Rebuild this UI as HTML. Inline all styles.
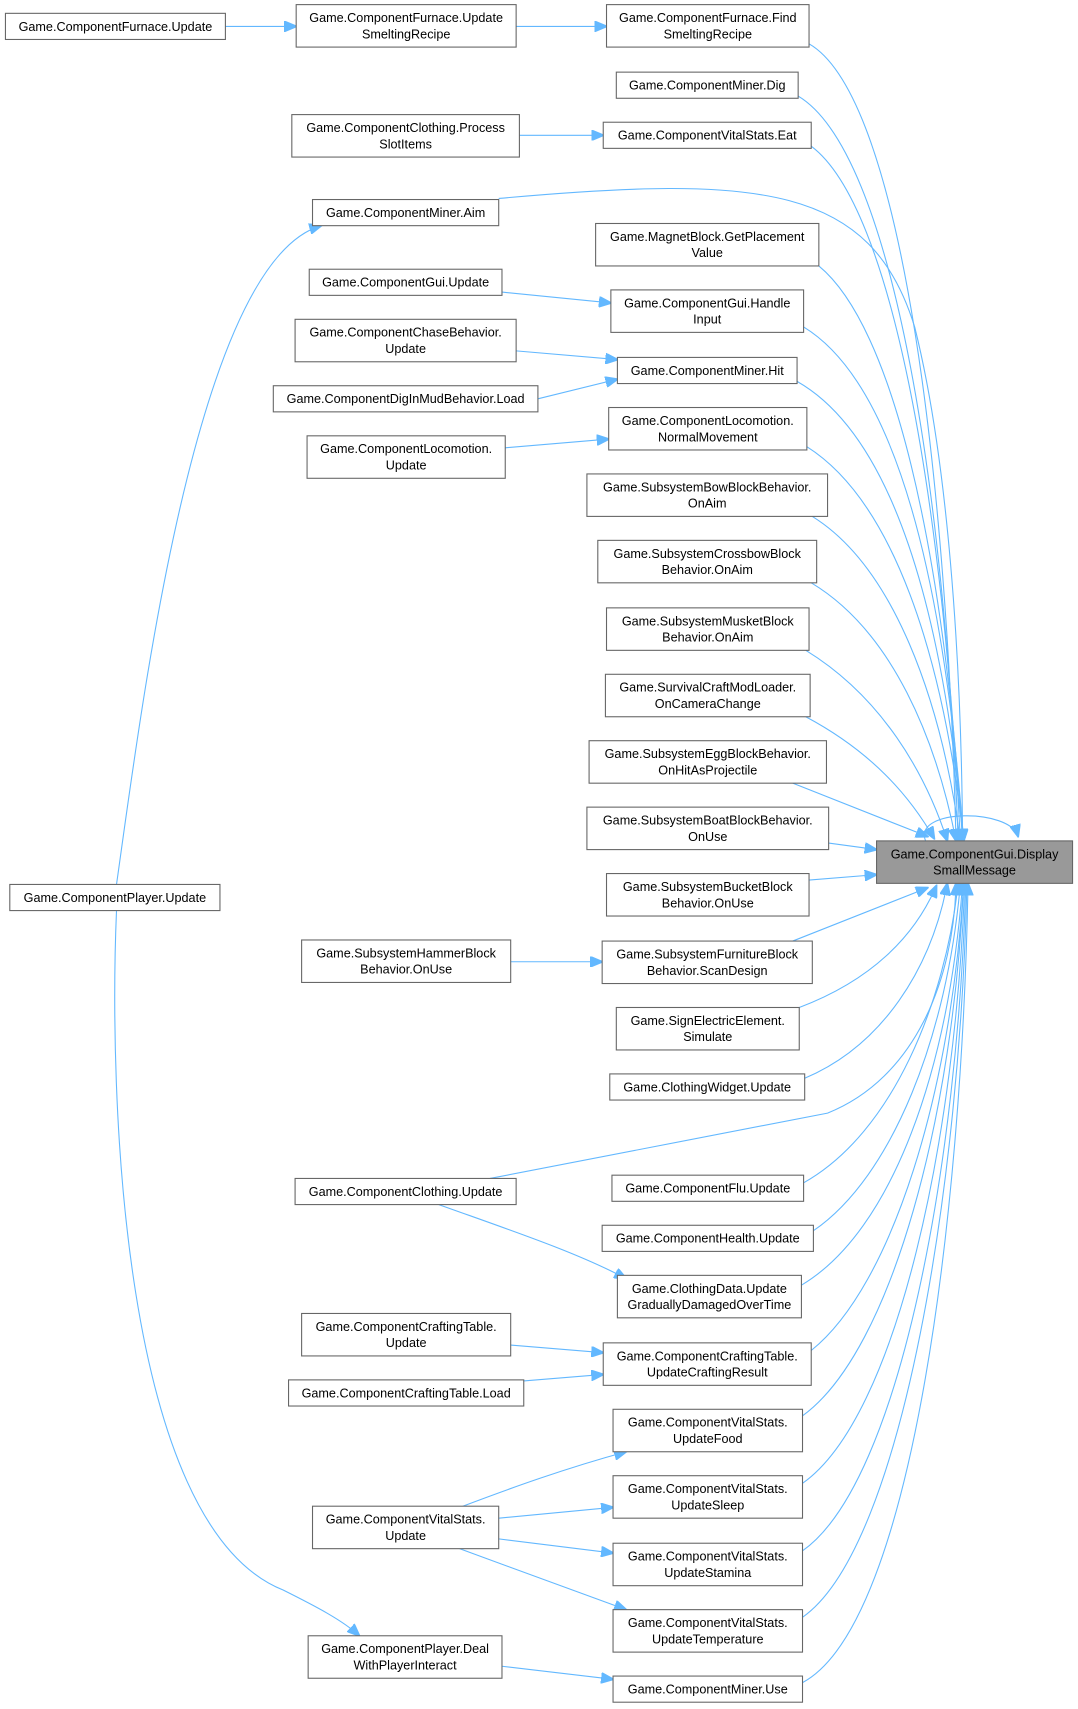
<!DOCTYPE html>
<html><head><meta charset="utf-8"><style>
html,body{margin:0;padding:0;background:#fff}
svg{display:block}
text{font-family:"Liberation Sans",sans-serif;font-size:11.6px;fill:#000;text-anchor:middle}
.b{fill:#fff;stroke:#666;stroke-width:1}
.t{fill:#999;stroke:#666;stroke-width:1}
.e{fill:none;stroke:#63b8ff;stroke-width:1}
</style></head><body>
<svg width="1078" height="1709" viewBox="0 0 990 1569" xmlns="http://www.w3.org/2000/svg">
<defs><marker id="a" markerWidth="12" markerHeight="10" refX="11" refY="5" orient="auto" markerUnits="userSpaceOnUse"><path d="M0,0 L12,5 L0,10 Z" fill="#63b8ff" stroke="#63b8ff"/></marker></defs>

<g class="e" marker-end="url(#a)">
<path class="e" d="M207,24 L272,24"/>
<path class="e" d="M474,24 L557,24"/>
<path class="e" d="M477,124 L554,124"/>
<path class="e" d="M461,268 L561,278"/>
<path class="e" d="M474,322 L567,330"/>
<path class="e" d="M494,366 L567,348"/>
<path class="e" d="M464,411 L559,403"/>
<path class="e" d="M469,883 L553,883"/>
<path class="e" d="M403,1106 C470,1130 530,1150 575,1174"/>
<path class="e" d="M469,1235 L554,1242"/>
<path class="e" d="M481,1268 L554,1262"/>
<path class="e" d="M425,1383 C470,1366 520,1348 575,1333"/>
<path class="e" d="M458,1394 L563,1384"/>
<path class="e" d="M458,1413 L563,1426"/>
<path class="e" d="M422,1422 C470,1440 520,1458 575,1478"/>
<path class="e" d="M461,1530 L563,1542"/>
<path class="e" d="M107,812 C130,650 180,240 295,207"/>
<path class="e" d="M107,836 C100,1000 110,1400 260,1460 C290,1475 315,1488 330,1502"/>
</g>

<g>
<path class="e" marker-end="url(#a)" d="M743,40 C830,90 870,450 878,772"/>
<path class="e" marker-end="url(#a)" d="M733,88 C820,140 868,450 880,772"/>
<path class="e" marker-end="url(#a)" d="M745,134 C820,190 866,460 882,772"/>
<path class="e" marker-end="url(#a)" d="M458,182 C700,160 800,170 840,300 C870,420 883,600 884,772"/>
<path class="e" marker-end="url(#a)" d="M752,244 C820,300 866,500 884,772"/>
<path class="e" marker-end="url(#a)" d="M738,300 C820,350 866,520 885,772"/>
<path class="e" marker-end="url(#a)" d="M732,350 C820,400 866,560 885,772"/>
<path class="e" marker-end="url(#a)" d="M741,410 C820,460 866,600 885,772"/>
<path class="e" marker-end="url(#a)" d="M746,474 C820,520 864,640 882,772"/>
<path class="e" marker-end="url(#a)" d="M745,535 C820,580 860,680 878,772"/>
<path class="e" marker-end="url(#a)" d="M740,597 C810,640 850,710 870,772"/>
<path class="e" marker-end="url(#a)" d="M740,658 C800,690 835,730 858,770"/>
<path class="e" marker-end="url(#a)" d="M728,719 L852,768"/>
<path class="e" marker-end="url(#a)" d="M761,774 L805,780"/>
<path class="e" marker-end="url(#a)" d="M743,808 L805,803"/>
<path class="e" marker-end="url(#a)" d="M728,864 L852,815"/>
<path class="e" marker-end="url(#a)" d="M734,925 C800,900 840,860 860,813"/>
<path class="e" marker-end="url(#a)" d="M739,990 C810,960 855,890 870,811"/>
<path class="e" marker-end="url(#a)" d="M450,1082 L760,1022 C840,990 876,900 878,811"/>
<path class="e" marker-end="url(#a)" d="M738,1086 C820,1040 868,920 880,811"/>
<path class="e" marker-end="url(#a)" d="M747,1130 C820,1080 870,950 882,811"/>
<path class="e" marker-end="url(#a)" d="M736,1180 C820,1130 872,980 884,811"/>
<path class="e" marker-end="url(#a)" d="M745,1240 C820,1180 874,1000 885,811"/>
<path class="e" marker-end="url(#a)" d="M737,1300 C820,1240 876,1020 885,811"/>
<path class="e" marker-end="url(#a)" d="M737,1362 C825,1300 878,1040 886,811"/>
<path class="e" marker-end="url(#a)" d="M737,1424 C828,1360 880,1060 887,811"/>
<path class="e" marker-end="url(#a)" d="M737,1485 C830,1420 882,1080 888,811"/>
<path class="e" marker-end="url(#a)" d="M737,1545 C840,1490 884,1100 889,811"/>
<path class="e" marker-end="url(#a)" d="M850,772 C838,742 928,742 935,768"/>
</g>

<rect class="b" x="5" y="12" width="202" height="24"/><text x="106" y="28">Game.ComponentFurnace.Update</text>
<rect class="b" x="9" y="812" width="193" height="24"/><text x="105.5" y="828">Game.ComponentPlayer.Update</text>

<rect class="b" x="272" y="4" width="202" height="39"/><text x="373" y="20">Game.ComponentFurnace.Update</text><text x="373" y="35">SmeltingRecipe</text>
<rect class="b" x="268" y="105" width="209" height="39"/><text x="372.5" y="121">Game.ComponentClothing.Process</text><text x="372.5" y="136">SlotItems</text>
<rect class="b" x="287" y="183" width="171" height="24"/><text x="372.5" y="199">Game.ComponentMiner.Aim</text>
<rect class="b" x="284" y="247" width="177" height="24"/><text x="372.5" y="263">Game.ComponentGui.Update</text>
<rect class="b" x="271" y="293" width="203" height="39"/><text x="372.5" y="309">Game.ComponentChaseBehavior.</text><text x="372.5" y="324">Update</text>
<rect class="b" x="251" y="354" width="243" height="24"/><text x="372.5" y="370">Game.ComponentDigInMudBehavior.Load</text>
<rect class="b" x="282" y="400" width="182" height="39"/><text x="373" y="416">Game.ComponentLocomotion.</text><text x="373" y="431">Update</text>
<rect class="b" x="277" y="863" width="192" height="39"/><text x="373" y="879">Game.SubsystemHammerBlock</text><text x="373" y="894">Behavior.OnUse</text>
<rect class="b" x="271" y="1082" width="203" height="24"/><text x="372.5" y="1098">Game.ComponentClothing.Update</text>
<rect class="b" x="277" y="1206" width="192" height="39"/><text x="373" y="1222">Game.ComponentCraftingTable.</text><text x="373" y="1237">Update</text>
<rect class="b" x="265" y="1267" width="216" height="24"/><text x="373" y="1283">Game.ComponentCraftingTable.Load</text>
<rect class="b" x="287" y="1383" width="171" height="39"/><text x="372.5" y="1399">Game.ComponentVitalStats.</text><text x="372.5" y="1414">Update</text>
<rect class="b" x="283" y="1502" width="178" height="39"/><text x="372" y="1518">Game.ComponentPlayer.Deal</text><text x="372" y="1533">WithPlayerInteract</text>

<rect class="b" x="557" y="4" width="186" height="39"/><text x="650" y="20">Game.ComponentFurnace.Find</text><text x="650" y="35">SmeltingRecipe</text>
<rect class="b" x="566" y="66" width="167" height="24"/><text x="649.5" y="82">Game.ComponentMiner.Dig</text>
<rect class="b" x="554" y="112" width="191" height="24"/><text x="649.5" y="128">Game.ComponentVitalStats.Eat</text>
<rect class="b" x="547" y="205" width="205" height="39"/><text x="649.5" y="221">Game.MagnetBlock.GetPlacement</text><text x="649.5" y="236">Value</text>
<rect class="b" x="561" y="266" width="177" height="39"/><text x="649.5" y="282">Game.ComponentGui.Handle</text><text x="649.5" y="297">Input</text>
<rect class="b" x="567" y="328" width="165" height="24"/><text x="649.5" y="344">Game.ComponentMiner.Hit</text>
<rect class="b" x="559" y="374" width="182" height="39"/><text x="650" y="390">Game.ComponentLocomotion.</text><text x="650" y="405">NormalMovement</text>
<rect class="b" x="539" y="435" width="221" height="39"/><text x="649.5" y="451">Game.SubsystemBowBlockBehavior.</text><text x="649.5" y="466">OnAim</text>
<rect class="b" x="549" y="496" width="201" height="39"/><text x="649.5" y="512">Game.SubsystemCrossbowBlock</text><text x="649.5" y="527">Behavior.OnAim</text>
<rect class="b" x="557" y="558" width="186" height="39"/><text x="650" y="574">Game.SubsystemMusketBlock</text><text x="650" y="589">Behavior.OnAim</text>
<rect class="b" x="556" y="619" width="188" height="39"/><text x="650" y="635">Game.SurvivalCraftModLoader.</text><text x="650" y="650">OnCameraChange</text>
<rect class="b" x="541" y="680" width="218" height="39"/><text x="650" y="696">Game.SubsystemEggBlockBehavior.</text><text x="650" y="711">OnHitAsProjectile</text>
<rect class="b" x="539" y="741" width="222" height="39"/><text x="650" y="757">Game.SubsystemBoatBlockBehavior.</text><text x="650" y="772">OnUse</text>
<rect class="b" x="557" y="802" width="186" height="39"/><text x="650" y="818">Game.SubsystemBucketBlock</text><text x="650" y="833">Behavior.OnUse</text>
<rect class="b" x="553" y="864" width="193" height="39"/><text x="649.5" y="880">Game.SubsystemFurnitureBlock</text><text x="649.5" y="895">Behavior.ScanDesign</text>
<rect class="b" x="566" y="925" width="168" height="39"/><text x="650" y="941">Game.SignElectricElement.</text><text x="650" y="956">Simulate</text>
<rect class="b" x="560" y="986" width="179" height="24"/><text x="649.5" y="1002">Game.ClothingWidget.Update</text>
<rect class="b" x="562" y="1079" width="176" height="24"/><text x="650" y="1095">Game.ComponentFlu.Update</text>
<rect class="b" x="553" y="1125" width="194" height="24"/><text x="650" y="1141">Game.ComponentHealth.Update</text>
<rect class="b" x="567" y="1171" width="169" height="39"/><text x="651.5" y="1187">Game.ClothingData.Update</text><text x="651.5" y="1202">GraduallyDamagedOverTime</text>
<rect class="b" x="554" y="1233" width="191" height="39"/><text x="649.5" y="1249">Game.ComponentCraftingTable.</text><text x="649.5" y="1264">UpdateCraftingResult</text>
<rect class="b" x="563" y="1294" width="174" height="39"/><text x="650" y="1310">Game.ComponentVitalStats.</text><text x="650" y="1325">UpdateFood</text>
<rect class="b" x="563" y="1355" width="174" height="39"/><text x="650" y="1371">Game.ComponentVitalStats.</text><text x="650" y="1386">UpdateSleep</text>
<rect class="b" x="563" y="1417" width="174" height="39"/><text x="650" y="1433">Game.ComponentVitalStats.</text><text x="650" y="1448">UpdateStamina</text>
<rect class="b" x="563" y="1478" width="174" height="39"/><text x="650" y="1494">Game.ComponentVitalStats.</text><text x="650" y="1509">UpdateTemperature</text>
<rect class="b" x="563" y="1539" width="174" height="24"/><text x="650" y="1555">Game.ComponentMiner.Use</text>

<rect class="t" x="805" y="772" width="180" height="39"/><text x="895" y="788">Game.ComponentGui.Display</text><text x="895" y="803">SmallMessage</text>
</svg>
</body></html>
